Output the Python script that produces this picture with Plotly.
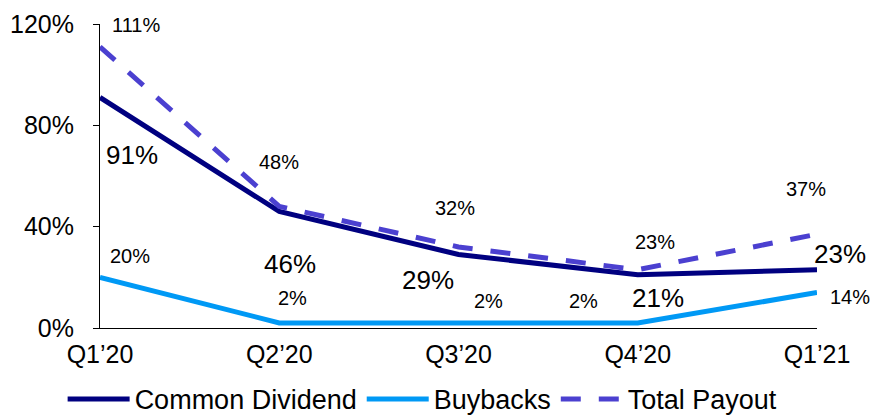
import plotly.graph_objects as go

quarters = ["Q1’20", "Q2’20", "Q3’20", "Q4’20", "Q1’21"]
common_dividend = [91, 46, 29, 21, 23]
buybacks = [20, 2, 2, 2, 14]
total_payout = [111, 48, 32, 23, 37]

y_ticks = [0, 40, 80, 120]

# label offsets in pixels (xshift, yshift) per point
div_offsets = [(32, -58), (11, -53), (-31, -25), (20, -23), (23, 16)]
buy_offsets = [(30, 21), (13, 25), (30, 22), (-54, 22), (33, -4)]
tot_offsets = [(36, 22), (0, 44), (-4, 39), (17, 28), (-11, 45)]

FONT = "Liberation Sans, Arial, sans-serif"

fig = go.Figure()
fig.add_trace(go.Scatter(x=quarters, y=common_dividend, name="Common Dividend",
                         mode="lines", line=dict(color="#000080", width=5),
                         cliponaxis=False))
fig.add_trace(go.Scatter(x=quarters, y=buybacks, name="Buybacks",
                         mode="lines", line=dict(color="#0099F5", width=5),
                         cliponaxis=False))
fig.add_trace(go.Scatter(x=quarters, y=total_payout, name="Total Payout",
                         mode="lines",
                         line=dict(color="#4B40D0", width=5, dash="20px,18px"),
                         cliponaxis=False))

annotations = []
for vals, offs, size in [(common_dividend, div_offsets, 26),
                         (buybacks, buy_offsets, 20),
                         (total_payout, tot_offsets, 20)]:
    for q, v, (dx, dy) in zip(quarters, vals, offs):
        annotations.append(dict(x=q, y=v, text=f"{v}%", showarrow=False,
                                xshift=dx, yshift=dy,
                                font=dict(size=size, color="black", family=FONT)))

fig.update_layout(
    width=875, height=416,
    margin=dict(l=100, r=58, t=24, b=88, autoexpand=False),
    paper_bgcolor="white", plot_bgcolor="white",
    font=dict(family=FONT, color="black", size=24),
    showlegend=True,
    legend=dict(orientation="h", xref="container", x=0.483, xanchor="center",
                yref="container", y=0.04, yanchor="middle",
                font=dict(size=27), itemwidth=62, tracegroupgap=0),
    annotations=annotations,
    xaxis=dict(range=[0, 4], showgrid=False, zeroline=False,
               showline=True, linecolor="black", linewidth=1,
               ticks="", tickfont=dict(size=25), ticklabelstandoff=4),
    yaxis=dict(range=[0, 120], tickvals=y_ticks,
               ticktext=[f"{t}%" for t in y_ticks],
               showgrid=False, zeroline=False,
               showline=True, linecolor="black", linewidth=1,
               ticks="outside", ticklen=6, tickcolor="black",
               tickfont=dict(size=25), ticklabelstandoff=14),
)

fig.write_html("out.html", config={"displayModeBar": False},
               post_script="document.body.style.margin='0';")
